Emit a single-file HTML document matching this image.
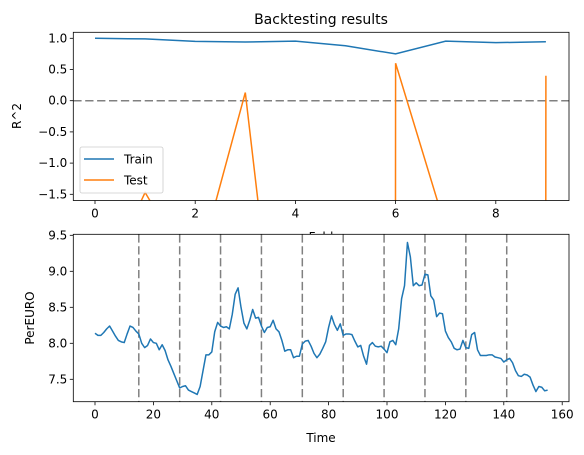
<!DOCTYPE html>
<html><head><meta charset="utf-8"><style>
html,body{margin:0;padding:0;background:#fff;width:584px;height:455px;overflow:hidden;}
svg{display:block;font-family:"DejaVu Sans","Liberation Sans",sans-serif;overflow:hidden;}
</style></head><body>
<svg id="chart" width="584" height="455" viewBox="0 0 584 455" xmlns="http://www.w3.org/2000/svg">
<rect width="584" height="455" fill="#fff"/>
<g id="topAxes"></g>
<g id="bottomAxes"></g>
</svg>
<script>
const folds = [0,1,2,3,4,5,6,7,8,9];
const trainR2 = [1.0,0.99,0.95,0.94,0.955,0.88,0.75,0.955,0.93,0.945];
const testR2 = [-3.2,-1.47,-2.83,0.13,-6.75,-1000,0.6,-2.04,-1000,0.4];
const topYTicks = [1.0,0.5,0.0,-0.5,-1.0,-1.5];
const topXTicks = [0,2,4,6,8];
const perEuro = [8.14,8.11,8.11,8.15,8.20,8.24,8.17,8.10,8.04,8.02,8.01,8.13,8.24,8.22,8.17,8.13,8.00,7.94,7.97,8.06,8.01,8.00,7.91,7.98,7.90,7.77,7.68,7.58,7.48,7.38,7.40,7.41,7.35,7.33,7.31,7.29,7.40,7.62,7.84,7.84,7.88,8.16,8.29,8.24,8.22,8.23,8.20,8.40,8.68,8.77,8.50,8.28,8.20,8.32,8.47,8.35,8.36,8.24,8.15,8.22,8.23,8.32,8.20,8.16,8.04,7.89,7.91,7.91,7.80,7.82,7.82,7.99,8.03,8.04,7.96,7.86,7.80,7.85,7.93,8.02,8.22,8.38,8.26,8.18,8.27,8.11,8.13,8.13,8.12,8.03,7.95,7.97,7.82,7.71,7.97,8.01,7.96,7.95,7.96,7.92,7.87,8.02,8.04,7.98,8.20,8.62,8.80,9.40,9.20,8.80,8.84,8.80,8.81,8.96,8.95,8.66,8.60,8.37,8.42,8.41,8.17,8.08,8.02,7.93,7.91,7.92,8.04,7.94,7.93,8.12,8.15,7.91,7.83,7.83,7.83,7.84,7.84,7.81,7.80,7.79,7.74,7.77,7.79,7.73,7.62,7.55,7.54,7.57,7.56,7.53,7.42,7.33,7.40,7.39,7.34,7.35];
const splitPoints = [15,29,43,57,71,85,99,113,127,141];
const botYTicks = [7.5,8.0,8.5,9.0,9.5];
const botXTicks = [0,20,40,60,80,100,120,140,160];

const NS="http://www.w3.org/2000/svg";
function mk(tag, attrs, parent, text){const e=document.createElementNS(NS,tag);for(const k in attrs)e.setAttribute(k,attrs[k]);if(text!==undefined)e.textContent=text;parent.appendChild(e);return e;}
const DASH='8.3,3.6';

const T={l:73.3,r:569,t:32.3,b:200.5};
const tx=v=>95+(v-0)*50.1;
const ty=v=>100.7-v*62.4;
const topG=document.getElementById('topAxes');
const clipT=mk('clipPath',{id:'clipT'},topG);
mk('rect',{x:T.l,y:T.t,width:T.r-T.l,height:T.b-T.t},clipT);
const title=mk('text',{x:321,y:24,'text-anchor':'middle','font-size':14,fill:'#000'},topG,'Backtesting results');


const fold=mk('text',{x:321,y:241,'text-anchor':'middle','font-size':12},topG,'Fold');


const r2=mk('text',{x:21,y:116,'text-anchor':'middle','font-size':12,transform:'rotate(-90 21 116)'},topG,'R^2');


topYTicks.forEach(v=>{const y=ty(v);mk('line',{x1:T.l-3.5,x2:T.l,y1:y,y2:y,stroke:'#000','stroke-width':0.8},topG);
 const t=mk('text',{x:T.l-6,y:y+4,'text-anchor':'end','font-size':12},topG,v.toFixed(1).replace('-','\u2212'));
 
 });
topXTicks.forEach(v=>{const x=tx(v);mk('line',{x1:x,x2:x,y1:T.b,y2:T.b+3.5,stroke:'#000','stroke-width':0.8},topG);
 const t=mk('text',{x:x,y:T.b+17,'text-anchor':'middle','font-size':12},topG,String(v));
 
 });
const zl=mk('line',{x1:T.l,x2:T.r,y1:ty(0),y2:ty(0),stroke:'#808080','stroke-width':1.5,'stroke-dasharray':DASH,'clip-path':'url(#clipT)'},topG);


const trainP=mk('polyline',{points:folds.map((f,i)=>tx(f)+','+ty(trainR2[i])).join(' '),fill:'none',stroke:'#1f77b4','stroke-width':1.5,'clip-path':'url(#clipT)'},topG);


const testP=mk('polyline',{points:folds.map((f,i)=>tx(f)+','+ty(testR2[i])).join(' '),fill:'none',stroke:'#ff7f0e','stroke-width':1.5,'clip-path':'url(#clipT)'},topG);


mk('rect',{x:T.l,y:T.t,width:T.r-T.l,height:T.b-T.t,fill:'none',stroke:'#000','stroke-width':0.8},topG);
const leg=mk('g',{},topG);


mk('rect',{x:80,y:147,width:83,height:46,rx:2,fill:'#fff','fill-opacity':0.8,stroke:'#ccc','stroke-width':0.8},leg);
mk('line',{x1:84,x2:114,y1:159,y2:159,stroke:'#1f77b4','stroke-width':1.5},leg);
mk('line',{x1:84,x2:114,y1:180,y2:180,stroke:'#ff7f0e','stroke-width':1.5},leg);
const l1=mk('text',{x:124,y:163.5,'font-size':12},leg,'Train');


const l2=mk('text',{x:124,y:184.5,'font-size':12},leg,'Test');



const B={l:73.3,r:569,t:234.3,b:401.7};
const bx=v=>95+v*2.92;
const by=v=>379.3-(v-7.5)*72;
const botG=document.getElementById('bottomAxes');
mk('rect',{x:B.l,y:B.t,width:B.r-B.l,height:B.b-B.t,fill:'#fff'},botG);
const clipB=mk('clipPath',{id:'clipB'},botG);
mk('rect',{x:B.l,y:B.t,width:B.r-B.l,height:B.b-B.t},clipB);
botYTicks.forEach(v=>{const y=by(v);mk('line',{x1:B.l-3.5,x2:B.l,y1:y,y2:y,stroke:'#000','stroke-width':0.8},botG);
 const t=mk('text',{x:B.l-6,y:y+4,'text-anchor':'end','font-size':12},botG,v.toFixed(1));
 
 });
botXTicks.forEach(v=>{const x=bx(v);mk('line',{x1:x,x2:x,y1:B.b,y2:B.b+3.5,stroke:'#000','stroke-width':0.8},botG);
 const t=mk('text',{x:x,y:B.b+17,'text-anchor':'middle','font-size':12},botG,String(v));
 
 });
splitPoints.forEach(s=>{const l=mk('line',{x1:bx(s),x2:bx(s),y1:B.t,y2:B.b,stroke:'#808080','stroke-width':1.5,'stroke-dasharray':DASH},botG);
 
 });
const pe=mk('polyline',{points:perEuro.map((v,i)=>bx(i)+','+by(v)).join(' '),fill:'none',stroke:'#1f77b4','stroke-width':1.5,'stroke-linejoin':'round','clip-path':'url(#clipB)'},botG);


mk('rect',{x:B.l,y:B.t,width:B.r-B.l,height:B.b-B.t,fill:'none',stroke:'#000','stroke-width':0.8},botG);
const tl=mk('text',{x:321,y:442,'text-anchor':'middle','font-size':12},botG,'Time');


const pl=mk('text',{x:34,y:318,'text-anchor':'middle','font-size':12,transform:'rotate(-90 34 318)'},botG,'PerEURO');


</script>
</body></html>
